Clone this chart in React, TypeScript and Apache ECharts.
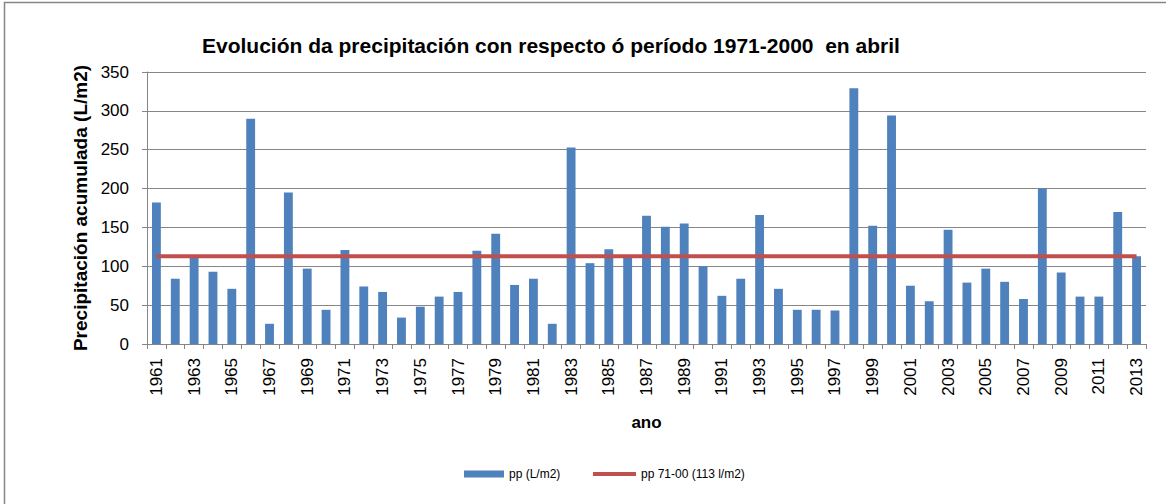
import React, { useEffect, useRef } from "react";
import * as echarts from "echarts";

const years: string[] = [
  "1961","1962","1963","1964","1965","1966","1967","1968","1969","1970",
  "1971","1972","1973","1974","1975","1976","1977","1978","1979","1980",
  "1981","1982","1983","1984","1985","1986","1987","1988","1989","1990",
  "1991","1992","1993","1994","1995","1996","1997","1998","1999","2000",
  "2001","2002","2003","2004","2005","2006","2007","2008","2009","2010",
  "2011","2012","2013",
];

const precipitation: number[] = [
  182, 84, 111, 93, 71, 290, 26, 195, 97, 44,
  121, 74, 67, 34, 48, 61, 67, 120, 142, 76,
  84, 26, 253, 104, 122, 111, 165, 151, 155, 100,
  62, 84, 166, 71, 44, 44, 43, 329, 152, 294,
  75, 55, 147, 79, 97, 80, 58, 200, 92, 61,
  61, 170, 113,
];

const normal7100 = 113;
const normalSeries: number[] = years.map(() => normal7100);

const yTicks = { min: 0, max: 350, interval: 50 };

const TITLE = "Evolución da precipitación con respecto ó período 1971-2000  en abril";
const BAR_NAME = "pp (L/m2)";
const LINE_NAME = "pp 71-00 (113 l/m2)";

export default function App() {
  const ref = useRef<HTMLDivElement>(null);
  useEffect(() => {
    if (!ref.current) return;
    const chart = echarts.init(ref.current, null, { renderer: "svg" });
    const labelFont = "'Liberation Sans', Arial, sans-serif";
    chart.setOption({
      animation: false,
      backgroundColor: "#ffffff",
      title: {
        text: TITLE,
        left: 197,
        top: 30,
        textStyle: {
          fontFamily: labelFont,
          fontSize: 21,
          fontWeight: "bold",
          color: "#000000",
        },
      },
      graphic: [
        {
          type: "polyline",
          shape: { points: [[4.5, 510], [4.5, 2.5], [1170, 2.5]] },
          style: { stroke: "#868686", lineWidth: 1.5, fill: "none" },
          silent: true,
        },
      ],
      legend: [
        {
          data: [BAR_NAME],
          left: 464,
          top: 468,
          padding: 0,
          itemWidth: 40,
          itemHeight: 7,
          icon: "rect",
          textStyle: { fontFamily: labelFont, fontSize: 12, color: "#000" },
        },
        {
          data: [LINE_NAME],
          left: 593,
          top: 468,
          padding: 0,
          itemWidth: 43,
          itemHeight: 4,
          icon: "rect",
          textStyle: { fontFamily: labelFont, fontSize: 12, color: "#000" },
        },
      ],
      grid: { left: 147, right: 20, top: 72, bottom: 160, containLabel: false },
      xAxis: {
        type: "category",
        data: years,
        boundaryGap: true,
        name: "ano",
        nameLocation: "middle",
        nameGap: 70,
        nameTextStyle: {
          fontFamily: labelFont,
          fontSize: 17,
          fontWeight: "bold",
          color: "#000",
        },
        axisLine: { lineStyle: { color: "#868686", width: 1 } },
        axisTick: { show: true, interval: 0, length: 5, lineStyle: { color: "#868686" } },
        axisLabel: {
          interval: 1,
          rotate: 90,
          margin: 14,
          fontFamily: labelFont,
          fontSize: 17,
          color: "#000",
        },
        splitLine: { show: false },
      },
      yAxis: {
        type: "value",
        min: yTicks.min,
        max: yTicks.max,
        interval: yTicks.interval,
        name: "Precipitación acumulada (L/m2)",
        nameLocation: "middle",
        nameGap: 57,
        nameTextStyle: {
          fontFamily: labelFont,
          fontSize: 19,
          fontWeight: "bold",
          color: "#000",
        },
        axisLine: { show: true, lineStyle: { color: "#868686", width: 1 } },
        axisTick: { show: true, length: 5, lineStyle: { color: "#868686" } },
        axisLabel: {
          margin: 18,
          fontFamily: labelFont,
          fontSize: 17,
          color: "#000",
        },
        splitLine: { show: true, lineStyle: { color: "#868686", width: 1 } },
      },
      series: [
        {
          name: BAR_NAME,
          type: "bar",
          data: precipitation,
          barWidth: "47%",
          itemStyle: { color: "#4F81BD" },
        },
        {
          name: LINE_NAME,
          type: "line",
          data: normalSeries,
          symbol: "none",
          lineStyle: { color: "#C0504D", width: 4 },
          itemStyle: { color: "#C0504D" },
        },
      ],
    });
    return () => chart.dispose();
  }, []);
  return (
    <div
      ref={ref}
      style={{ position: "absolute", left: 0, top: 0, width: 1166, height: 504 }}
    />
  );
}
